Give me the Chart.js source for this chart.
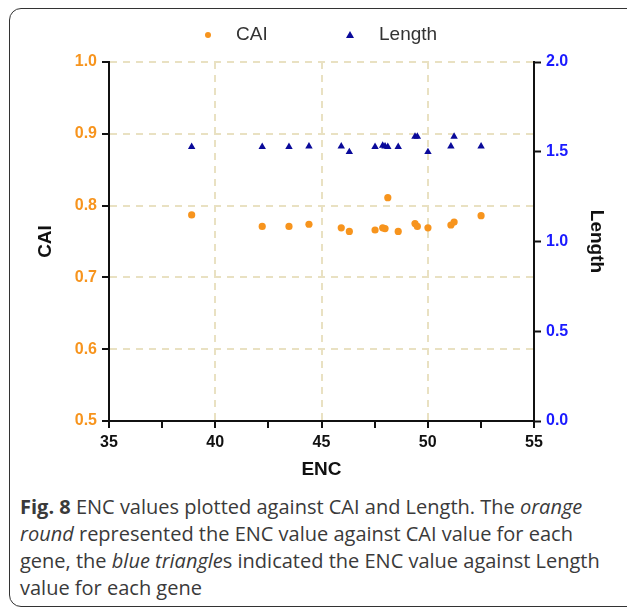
<!DOCTYPE html>
<html>
<head>
<meta charset="utf-8">
<script src="https://cdn.jsdelivr.net/npm/chart.js@4.4.1/dist/chart.umd.min.js"></script>
<style>
  html, body { margin: 0; padding: 0; background: #fff; }
  body { width: 627px; height: 607px; position: relative; overflow: hidden; }
  .frame {
    position: absolute; left: 9px; top: 8px; width: 640px; height: 599px;
    box-sizing: border-box; border: 1.5px solid #333; border-radius: 12px;
  }
  #chartBox { position: absolute; left: 0; top: 0; width: 627px; height: 490px; }
  .legend { position: absolute; top: 22px; font: 19px Arial, "Liberation Sans", sans-serif; color: #333; }
  .legend span { position: absolute; white-space: nowrap; }
  .dot { width: 6px; height: 6px; border-radius: 50%; background: #f7941d; }
  .tri { width: 0; height: 0; border-left: 4px solid transparent; border-right: 4px solid transparent; border-bottom: 7px solid #0a0a9a; }
  .caption {
    position: absolute; left: 20px; top: 493px; white-space: nowrap;
    font: 20px "Open Sans", sans-serif; line-height: 27px; color: #3a3a3a;
  }
</style>
</head>
<body>
<div class="frame"></div>
<div id="chartBox"><canvas id="enc-chart"></canvas></div>
<div class="legend">
  <span class="dot" style="left:205px; top:10px;"></span>
  <span style="left:236px; top:1px;">CAI</span>
  <span class="tri" style="left:346px; top:9px;"></span>
  <span style="left:379px; top:1px;">Length</span>
</div>
<div class="caption"><b>Fig. 8</b> ENC values plotted against CAI and Length. The <i>orange</i><br><i>round</i> represented the ENC value against CAI value for each<br>gene, the <i>blue triangle</i>s indicated the ENC value against Length<br>value for each gene</div>

<script>
// values
const encValues = [38.89, 42.21, 43.47, 44.41, 45.93, 46.31, 47.52, 47.88, 47.99, 48.12, 48.61, 49.40, 49.51, 50.01, 51.09, 51.24, 52.51];
const caiValues = [0.787, 0.771, 0.771, 0.774, 0.769, 0.764, 0.766, 0.769, 0.768, 0.811, 0.764, 0.775, 0.771, 0.769, 0.773, 0.777, 0.786];
const lengthValues = [1.527, 1.527, 1.527, 1.530, 1.530, 1.499, 1.527, 1.534, 1.530, 1.527, 1.527, 1.585, 1.585, 1.499, 1.530, 1.585, 1.530];

const orange = "#f7941d";
const navy = "#0a0a9a";
const gridColor = "#e9e1c2";
const font = "Arial, 'Liberation Sans', Helvetica, sans-serif";

const caiPoints = encValues.map((x, i) => ({ x: x, y: caiValues[i] }));
const lengthPoints = encValues.map((x, i) => ({ x: x, y: lengthValues[i] }));

new Chart(document.getElementById("enc-chart"), {
  type: "scatter",
  data: {
    datasets: [
      {
        label: "CAI",
        data: caiPoints,
        yAxisID: "y",
        pointStyle: "circle",
        pointRadius: 3.6,
        backgroundColor: orange,
        borderWidth: 0,
      },
      {
        label: "Length",
        data: lengthPoints,
        yAxisID: "y1",
        pointStyle: "triangle",
        pointRadius: 4.3,
        backgroundColor: navy,
        borderColor: navy,
        borderWidth: 0,
      },
    ],
  },
  options: {
    responsive: true,
    maintainAspectRatio: false,
    animation: false,
    layout: { padding: { left: 30, right: 15, top: 62, bottom: 5 } },
    plugins: {
      legend: { display: false },
      tooltip: { enabled: false },
    },
    scales: {
      x: {
        type: "linear",
        min: 35,
        max: 55,
        afterFit: (scale) => { scale.height = 64; },
        ticks: {
          stepSize: 2.5,
          padding: 5,
          color: "#111",
          font: { family: font, size: 16, weight: "bold" },
          callback: (v) => (v % 5 === 0 ? v : ""),
        },
        grid: {
          color: (ctx) => {
            const v = ctx.tick && ctx.tick.value;
            return v % 5 === 0 && v > 35 && v < 55 ? gridColor : "rgba(0,0,0,0)";
          },
          lineWidth: 2,
          tickColor: "#111",
          tickLength: 7,
          tickWidth: 2,
        },
        border: { color: "#111", width: 2, dash: [7, 6] },
        title: {
          display: true,
          text: "ENC",
          color: "#111",
          font: { family: font, size: 19, weight: "bold" },
        },
      },
      y: {
        position: "left",
        min: 0.5,
        max: 1.0,
        afterFit: (scale) => { scale.width = 79; },
        ticks: {
          stepSize: 0.1,
          padding: 5,
          color: orange,
          font: { family: font, size: 16, weight: "bold" },
          callback: (v) => v.toFixed(1),
        },
        grid: {
          color: (ctx) => (ctx.tick && ctx.tick.value > 0.55 ? gridColor : "rgba(0,0,0,0)"),
          lineWidth: 2,
          tickColor: "#111",
          tickLength: 7,
          tickWidth: 2,
        },
        border: { color: "#111", width: 2, dash: [7, 6] },
        title: {
          display: true,
          text: "CAI",
          color: "#111",
          font: { family: font, size: 19, weight: "bold" },
        },
      },
      y1: {
        position: "right",
        min: 0,
        max: 2.0,
        afterFit: (scale) => { scale.width = 78; },
        ticks: {
          stepSize: 0.5,
          padding: 5,
          color: "#1a1aff",
          font: { family: font, size: 16, weight: "bold" },
          callback: (v) => v.toFixed(1),
        },
        grid: {
          drawOnChartArea: false,
          tickColor: "#111",
          tickLength: 7,
          tickWidth: 2,
        },
        border: { color: "#111", width: 2 },
        title: {
          display: true,
          text: "Length",
          color: "#111",
          font: { family: font, size: 19, weight: "bold" },
        },
      },
    },
  },
});
</script>
</body>
</html>
